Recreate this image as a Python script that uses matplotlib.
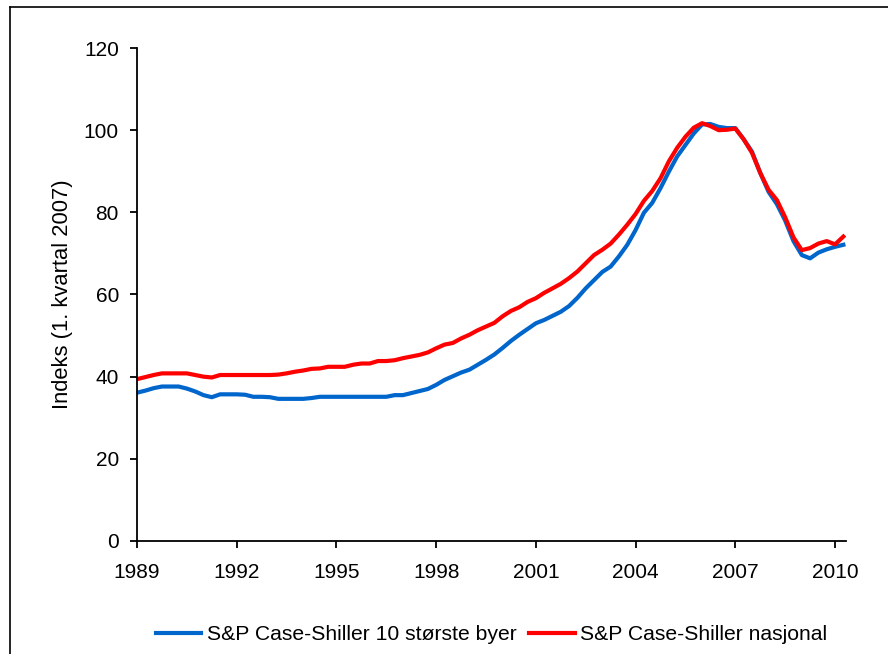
import numpy as np
import pandas as pd
import matplotlib
matplotlib.use("Agg")
import matplotlib.pyplot as plt
from matplotlib.lines import Line2D

plt.rcParams['font.family'] = ['Liberation Sans', 'DejaVu Sans']

# kvartalsdata 1989K1 - 2010K2
quarters = pd.period_range('1989Q1', '2010Q2', freq='Q')

# S&P Case-Shiller 10 største byer (1. kvartal 2007 = 100)
cs10 = [36.1, 36.6, 37.2, 37.6, 37.6, 37.6, 37.1, 36.4, 35.5, 35.0,
        35.7, 35.7, 35.7, 35.6, 35.1, 35.1, 35.0, 34.6, 34.6, 34.6,
        34.6, 34.8, 35.1, 35.1, 35.1, 35.1, 35.1, 35.1, 35.1, 35.1,
        35.1, 35.5, 35.5, 36.0, 36.5, 37.0, 38.0, 39.2, 40.1, 41.0,
        41.7, 42.9, 44.1, 45.4, 47.0, 48.7, 50.2, 51.6, 53.0, 53.8,
        54.8, 55.8, 57.2, 59.2, 61.5, 63.5, 65.5, 66.8, 69.3, 72.1,
        75.7, 79.9, 82.3, 85.9, 89.9, 93.6, 96.4, 99.2, 101.4, 101.5,
        100.8, 100.5, 100.5, 97.8, 94.8, 89.6, 85.0, 82.0, 78.0, 73.0,
        69.6, 68.8, 70.2, 71.0, 71.6, 72.1]

# S&P Case-Shiller nasjonal
csnat = [39.4, 39.9, 40.4, 40.8, 40.8, 40.8, 40.8, 40.4, 40.0, 39.8,
         40.4, 40.4, 40.4, 40.4, 40.4, 40.4, 40.4, 40.5, 40.8, 41.2,
         41.5, 41.9, 42.0, 42.4, 42.4, 42.4, 42.9, 43.2, 43.2, 43.8,
         43.8, 44.0, 44.5, 44.9, 45.3, 45.9, 46.9, 47.8, 48.2, 49.3,
         50.2, 51.3, 52.2, 53.1, 54.7, 56.0, 56.9, 58.2, 59.1, 60.4,
         61.5, 62.6, 64.0, 65.6, 67.6, 69.6, 70.9, 72.4, 74.6, 77.0,
         79.6, 82.8, 85.2, 88.3, 92.4, 95.7, 98.4, 100.6, 101.7, 101.0,
         100.0, 100.1, 100.4, 97.8, 94.5, 89.6, 85.5, 83.0, 78.8, 73.9,
         70.8, 71.3, 72.4, 73.0, 72.2, 74.1]

year_ticks = [1989, 1992, 1995, 1998, 2001, 2004, 2007, 2010]
y_ticks = [0, 20, 40, 60, 80, 100, 120]

x = quarters.year + (quarters.quarter - 1) / 4.0

fig = plt.figure(figsize=(8.88, 6.54), dpi=100)
ax = fig.add_axes([0.1543, 0.1728, 0.7984, 0.7538])

ax.plot(x, cs10, color='#0066CC', lw=3, label='S&P Case-Shiller 10 største byer')
ax.plot(x, csnat, color='#FF0000', lw=3, label='S&P Case-Shiller nasjonal')

ax.set_xlim(1989, 2010.33)
ax.set_ylim(0, 120)
ax.set_xticks(year_ticks)
ax.set_yticks(y_ticks)
ax.tick_params(axis='both', direction='out', length=5, width=1.3, labelsize=15, colors='black')
ax.tick_params(axis='x', pad=11)
ax.tick_params(axis='y', pad=8)

for side in ['top', 'right']:
    ax.spines[side].set_visible(False)
for side in ['left', 'bottom']:
    ax.spines[side].set_linewidth(1.3)
    ax.spines[side].set_color('black')

ax.set_ylabel('Indeks (1. kvartal 2007)', fontsize=15.8)
ax.yaxis.set_label_coords(-0.09, 0.5)

ax.legend(loc='center', bbox_to_anchor=(0.50, -0.19), ncol=2, frameon=False,
          fontsize=15.2, handlelength=2.15, columnspacing=0.6, handletextpad=0.25)

# ramme rundt diagrammet
fig.add_artist(Line2D([10 / 888, 10 / 888], [0, 1 - 7 / 654], color='black', lw=1.2))
fig.add_artist(Line2D([10 / 888, 1], [1 - 7 / 654, 1 - 7 / 654], color='black', lw=1.2))

fig.savefig('out.png', dpi=100)
